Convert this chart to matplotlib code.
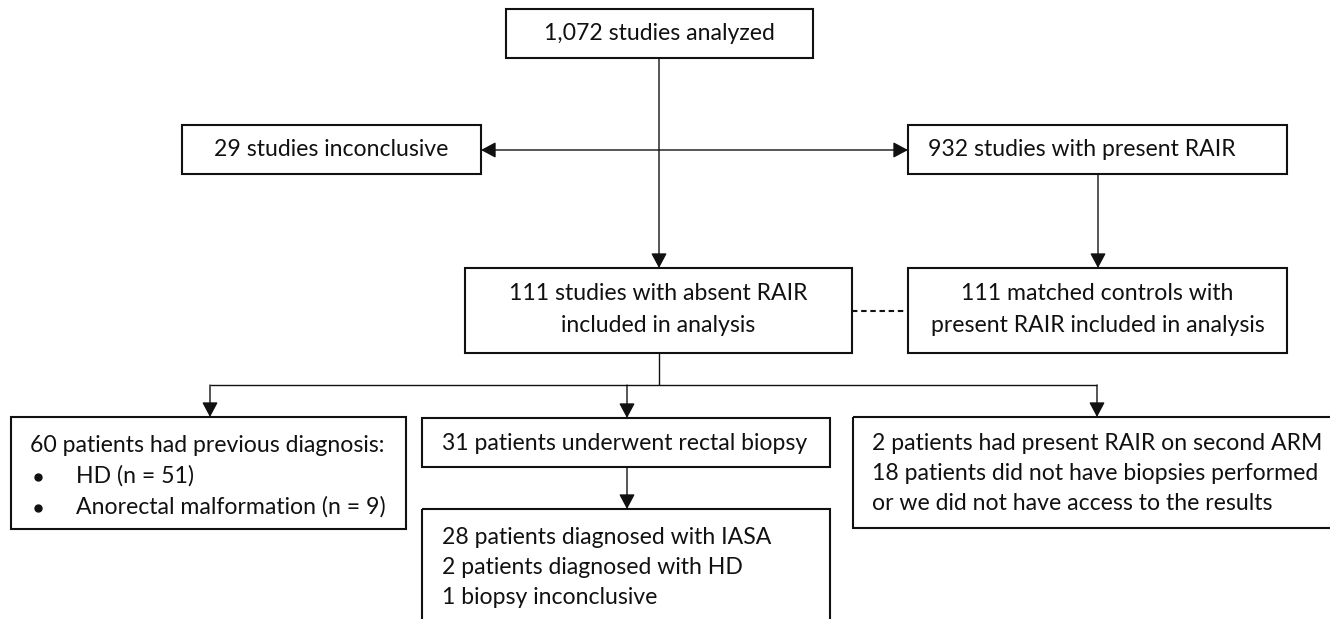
import matplotlib
matplotlib.use("Agg")
import matplotlib.pyplot as plt
from matplotlib.patches import Rectangle, FancyArrowPatch

plt.rcParams['font.family'] = ['Lato', 'DejaVu Sans']

# ---- content ----
top_text = "1,072 studies analyzed"
inconclusive_text = "29 studies inconclusive"
present_text = "932 studies with present RAIR"
absent_lines = ["111 studies with absent RAIR", "included in analysis"]
matched_lines = ["111 matched controls with", "present RAIR included in analysis"]
prev_diag_title = "60 patients had previous diagnosis:"
prev_diag_items = ["HD (n = 51)", "Anorectal malformation (n = 9)"]
biopsy_text = "31 patients underwent rectal biopsy"
biopsy_results = ["28 patients diagnosed with IASA",
                  "2 patients diagnosed with HD",
                  "1 biopsy inconclusive"]
other_lines = ["2 patients had present RAIR on second ARM",
               "18 patients did not have biopsies performed",
               "or we did not have access to the results"]

W, H = 1330, 619
fig = plt.figure(figsize=(W / 100, H / 100), dpi=100)
ax = fig.add_axes([0, 0, 1, 1])
ax.set_xlim(0, W)
ax.set_ylim(H, 0)
ax.axis('off')

INK = '#111111'
BOX_LW = 1.5
LINE_LW = 1.0

# fit font size: widest line target width ~449 px
probe = ax.text(0, 0, other_lines[0], fontsize=10)
fig.canvas.draw()
r = fig.canvas.get_renderer()
w10 = probe.get_window_extent(r).width
probe.remove()
FS = 10 * 449 / w10


def box(x0, y0, x1, y1):
    ax.add_patch(Rectangle((x0, y0), x1 - x0, y1 - y0, fill=False,
                           edgecolor=INK, lw=BOX_LW, clip_on=False, zorder=3))


def line(xs, ys, **kw):
    ax.plot(xs, ys, color=INK, solid_capstyle='butt', **kw)


def arrow(x0, y0, x1, y1, style='-|>'):
    ax.add_patch(FancyArrowPatch((x0, y0), (x1, y1), arrowstyle=style + ',head_length=9,head_width=4.8',
                                 color=INK, lw=LINE_LW, shrinkA=0, shrinkB=0,
                                 mutation_scale=1, zorder=4))


def txt(x, y, s, ha='left'):
    ax.text(x, y, s, ha=ha, va='center', fontsize=FS, color=INK, zorder=5)


# boxes
box(506, 9, 813, 58)
box(182, 125, 481, 174)
box(908, 125, 1287, 174)
box(465, 268, 852, 353)
box(908, 268, 1287, 353)
box(11, 417, 406, 529)
box(422, 418, 830, 467)
box(422, 509, 830, 660)
box(853, 417, 1345, 528)

# connectors
arrow(659, 58, 659, 268)
arrow(481, 150, 908, 150, style='<|-|>')
arrow(1098, 174, 1098, 268)
line([852, 908], [310.6, 310.6], lw=1.5, linestyle=(0, (2.6, 1.8)))
line([659, 659], [353, 385], lw=LINE_LW)
line([210, 1097], [385, 385], lw=LINE_LW)
arrow(210, 385, 210, 417)
arrow(627, 385, 627, 418)
arrow(1097, 385, 1097, 417)
arrow(627, 467, 627, 509)

# texts
txt(659, 33, top_text, ha='center')
txt(331.5, 150, inconclusive_text, ha='center')
txt(928, 150, present_text)
for i, s in enumerate(absent_lines):
    txt(658.5, 293 + 32 * i, s, ha='center')
for i, s in enumerate(matched_lines):
    txt(1097.5, 293 + 32 * i, s, ha='center')
txt(30, 445, prev_diag_title)
for i, s in enumerate(prev_diag_items):
    y = 476 + 30.5 * i
    ax.plot([38], [y + 1], marker='o', ms=5, color=INK, zorder=5)
    txt(75.5, y, s)
txt(442, 444, biopsy_text)
for i, s in enumerate(biopsy_results):
    txt(442, 537 + 30 * i, s)
for i, s in enumerate(other_lines):
    txt(871.5, 443 + 30 * i, s)

fig.savefig('out.png', dpi=100, facecolor='white')
